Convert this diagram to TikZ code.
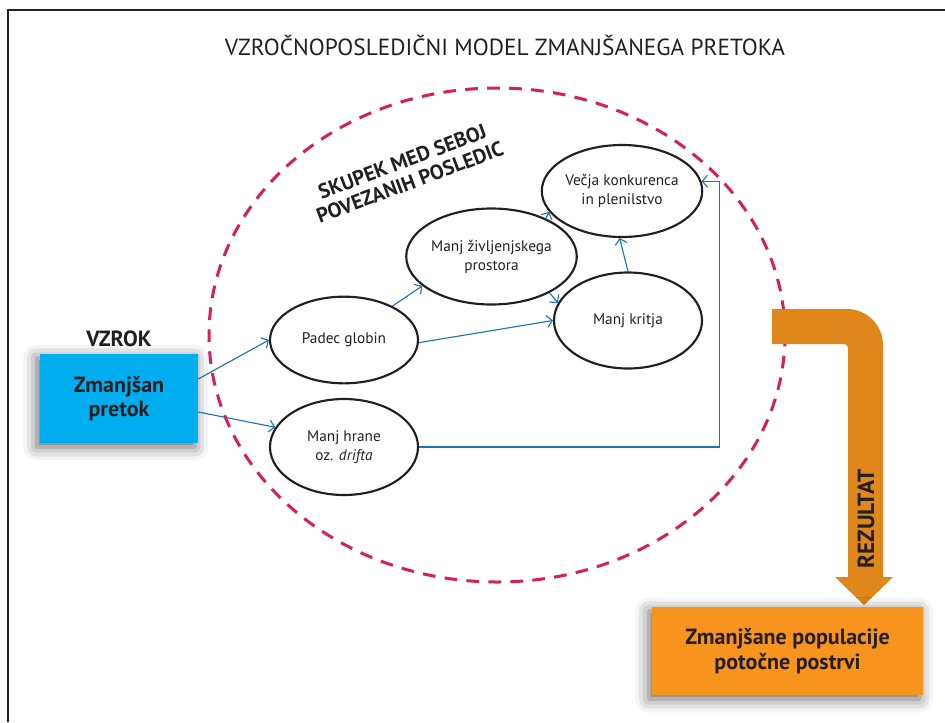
\documentclass[tikz,border=0pt]{standalone}
\usepackage{fontspec}
\setmainfont{PT Sans}
\usetikzlibrary{shapes.geometric,arrows.meta,calc,shadows.blur}
\definecolor{tekst}{HTML}{231F20}
\definecolor{modra}{HTML}{1C75BC}
\definecolor{rdeca}{HTML}{D91C5C}
\definecolor{cian}{HTML}{00AEEF}
\definecolor{oranzna}{HTML}{DF871A}
\definecolor{svetlooranzna}{HTML}{F7941D}
\tikzset{
  centered/.style = { align=center, anchor=center },
 posledica/.style = { ellipse, draw=tekst, line width=1.6pt, centered, text=tekst,
                      font=\fontsize{11.5}{14.25}\selectfont,
                      minimum width=111pt, minimum height=72pt, inner sep=0pt },
     okvir/.style = { centered, text=tekst, font=\bfseries\fontsize{16.5}{18.5}\selectfont,
                      inner sep=0pt,
                      blur shadow={shadow xshift=-2.5pt, shadow yshift=-3pt,
                                   shadow blur radius=10pt, shadow opacity=60} },
     napis/.style = { centered, text=tekst, font=\bfseries\fontsize{16.5}{18}\selectfont },
     arrow/.style = { line width=0.85pt, color=modra, -{Straight Barb[length=4pt,width=9pt]} },
      krog/.style = { line width=2.25pt, color=rdeca, dash pattern=on 9.5pt off 7pt }
}
\begin{document}
\begin{tikzpicture}[x=0.75pt, y=-0.75pt]
  \useasboundingbox (0,0) rectangle (945,722);
  \draw [line width=1.1pt, tekst] (8,722) -- (8,10) -- (945,10);

  \node [centered, text=tekst, font=\fontsize{17.5}{20}\selectfont] (naslov) at (505,45)
    {VZROČNOPOSLEDIČNI MODEL ZMANJŠANEGA PRETOKA};

  \draw [krog] (497,335) ellipse [x radius=216pt, y radius=185.25pt];
  \node [napis, rotate=20.5, font=\bfseries\fontsize{15.5}{16.5}\selectfont] (skupek) at (406,172)
    {SKUPEK MED SEBOJ\\POVEZANIH POSLEDIC};

  \node [napis] (vzrok) at (119,339) {VZROK};
  \node [okvir, fill=cian, minimum width=118.5pt, minimum height=66.75pt] (pretok) at (119,398.5)
    {Zmanjšan\\pretok};

  \node [posledica, minimum height=65pt] (globine) at (344,340) {Padec globin};
  \node [posledica] (hrana) at (344,447) {Manj hrane\\oz. \textit{drifta}};
  \node [posledica] (prostor) at (491.5,256.5) {Manj življenjskega\\prostora};
  \node [posledica] (kritje) at (628,320.5) {Manj kritja};
  \node [posledica, minimum height=69pt] (konkurenca) at (622,191) {Večja konkurenca\\in plenilstvo};

  \draw [arrow] ($(pretok.east)+(0,-19.5)$) -- (globine.180);
  \draw [arrow] ($(pretok.east)+(0,13.5)$) -- (hrana.164);
  \draw [arrow] (globine.35) -- (prostor.203);
  \draw [arrow] (globine.358) -- (kritje.west);
  \draw [arrow] (prostor.-32) -- (kritje.166);
  \draw [arrow] (prostor.35) -- (konkurenca.196);
  \draw [arrow] (kritje.north) -- (konkurenca.267);
  \draw [arrow] (hrana.east) -| ([xshift=13.5pt]konkurenca.7) -- (konkurenca.7);

  \fill [oranzna] (772,309) -- (800,309) [rounded corners=27pt] -- (883,309) -- (883,420)
    [sharp corners] -- (883,500) -- (883,577) -- (893,577) -- (864,605) -- (835,577)
    -- (848,577) -- (848,500) [rounded corners=3pt] -- (848,344) -- (800,344)
    [sharp corners] -- (772,344) -- cycle;
  \node [napis, rotate=90, font=\bfseries\fontsize{17.5}{19}\selectfont] (rezultat) at (866,519) {REZULTAT};

  \node [okvir, fill=svetlooranzna, minimum width=203.25pt, minimum height=66pt] (populacije)
    at (787.5,651) {Zmanjšane populacije\\potočne postrvi};
\end{tikzpicture}
\end{document}
